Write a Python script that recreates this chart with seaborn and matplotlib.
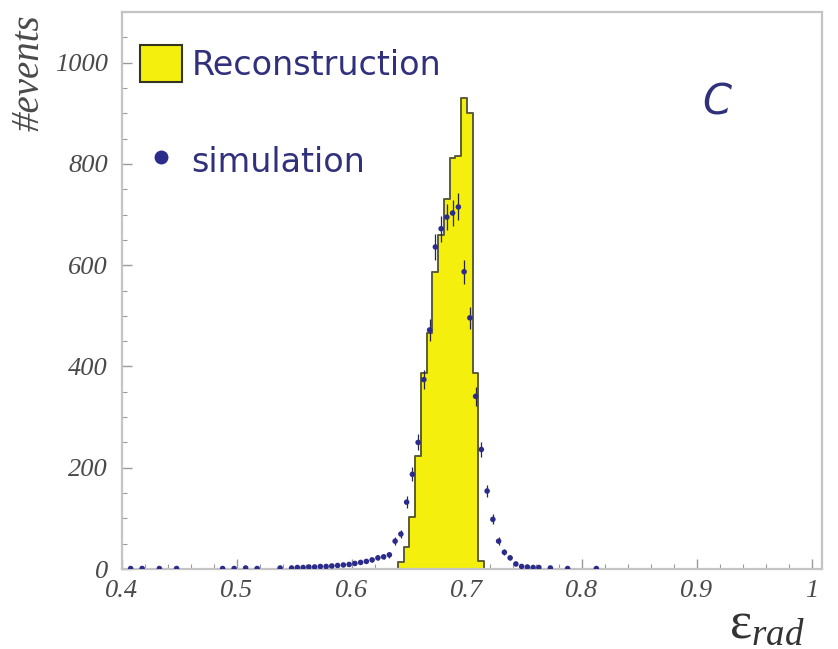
import numpy as np
import pandas as pd
import matplotlib
matplotlib.use("Agg")
import matplotlib.pyplot as plt
import seaborn as sns
from matplotlib.patches import Patch
from matplotlib.lines import Line2D
from matplotlib.ticker import MultipleLocator, FuncFormatter

# ---------------- data ----------------
reco_edges = [0.640, 0.645, 0.650, 0.655, 0.660, 0.665, 0.670, 0.675,
              0.680, 0.685, 0.690, 0.695, 0.700, 0.705, 0.710, 0.715]
reco_counts = [14, 43, 102, 223, 388, 467, 587, 660,
               730, 811, 815, 930, 900, 388, 16]

sim_x = [0.4075, 0.4175, 0.4325, 0.4475, 0.4875, 0.4975, 0.5075, 0.5175,
         0.5375, 0.5475, 0.5525, 0.5575, 0.5625, 0.5675, 0.5725, 0.5775,
         0.5825, 0.5875, 0.5925, 0.5975, 0.6025, 0.6075, 0.6125, 0.6175,
         0.6225, 0.6275, 0.6325, 0.6375, 0.6425, 0.6475, 0.6525, 0.6575,
         0.6625, 0.6675, 0.6725, 0.6775, 0.6825, 0.6875, 0.6925, 0.6975,
         0.7025, 0.7075, 0.7125, 0.7175, 0.7225, 0.7275, 0.7325, 0.7375,
         0.7425, 0.7475, 0.7525, 0.7575, 0.7625, 0.7725, 0.7875, 0.8125]
sim_y = [1, 1, 1, 1, 1, 1, 2, 1,
         2, 2, 3, 3, 4, 4, 5, 5,
         6, 7, 8, 9, 11, 13, 15, 18,
         22, 24, 28, 55, 69, 132, 187, 250,
         374, 472, 636, 672, 695, 703, 715, 587,
         496, 341, 236, 154, 98, 55, 33, 22,
         10, 5, 4, 3, 3, 2, 1, 1]
sim_err = [1.0, 1.0, 1.0, 1.0, 1.0, 1.0, 1.4, 1.0,
           1.4, 1.4, 1.7, 1.7, 2.0, 2.0, 2.2, 2.2,
           2.4, 2.6, 2.8, 3.0, 3.3, 3.6, 3.9, 4.2,
           4.7, 4.9, 5.3, 7.4, 8.3, 11.5, 13.7, 15.8,
           19.3, 21.7, 25.2, 25.9, 26.4, 26.5, 26.7, 24.2,
           22.3, 18.5, 15.4, 12.4, 9.9, 7.4, 5.7, 4.7,
           3.2, 2.2, 2.0, 1.7, 1.7, 1.4, 1.0, 1.0]

x_ticks = [0.4, 0.5, 0.6, 0.7, 0.8, 0.9, 1.0]
y_ticks = [0, 200, 400, 600, 800, 1000]

label_reco = "Reconstruction"
label_sim = "simulation"
panel_label = "C"

# ---------------- style ----------------
sns.set_style("white")
plt.rcParams["font.family"] = ["DejaVu Sans"]
plt.rcParams["mathtext.fontset"] = "custom"
plt.rcParams["mathtext.rm"] = "Liberation Serif"
plt.rcParams["mathtext.it"] = "Liberation Serif:italic"

yellow = "#f4ef0c"
hist_edge = "#5c5c38"
navy = "#2b2b8c"
text_navy = "#30307c"
frame_col = "#c4c4c4"
tick_col = "#9a9a9a"
label_col = "#4a4a4a"

fig = plt.figure(figsize=(8.38, 6.49), dpi=100)
ax = fig.add_axes([122 / 838, 1 - 569 / 649, 700 / 838, 557 / 649])

centers = [(a + b) / 2 for a, b in zip(reco_edges[:-1], reco_edges[1:])]
reco_df = pd.DataFrame({"x": centers, "w": reco_counts})
sns.histplot(data=reco_df, x="x", weights="w", bins=reco_edges,
             element="step", fill=True, color=yellow, alpha=1.0,
             edgecolor=hist_edge, linewidth=1.4, ax=ax, zorder=2)

ax.errorbar(sim_x, sim_y, yerr=sim_err, fmt="none", ecolor="#26264a",
            elinewidth=0.9, zorder=3)
sim_df = pd.DataFrame({"x": sim_x, "y": sim_y})
sns.scatterplot(data=sim_df, x="x", y="y", color=navy, s=16,
                edgecolor="none", ax=ax, zorder=4)

ax.set_xlim(0.4, 1.0087)
ax.set_ylim(0, 1100)

ax.xaxis.set_major_locator(MultipleLocator(0.1))
ax.xaxis.set_minor_locator(MultipleLocator(0.02))
ax.yaxis.set_major_locator(MultipleLocator(200))
ax.yaxis.set_minor_locator(MultipleLocator(50))
ax.set_xticks(x_ticks)
ax.set_yticks(y_ticks)
ax.xaxis.set_major_formatter(FuncFormatter(lambda v, p: "%g" % round(v, 3)))
ax.yaxis.set_major_formatter(FuncFormatter(lambda v, p: "%d" % v))

ax.tick_params(axis="both", which="both", direction="in", colors=tick_col,
               bottom=True, left=True, top=False, right=False)
ax.tick_params(axis="both", which="major", length=7, width=1.0)
ax.tick_params(axis="both", which="minor", length=3.5, width=0.8)
ax.tick_params(axis="y", which="major", pad=10)
ax.tick_params(axis="x", which="major", pad=8)
for lab in ax.get_xticklabels() + ax.get_yticklabels():
    lab.set_fontfamily("Liberation Serif")
    lab.set_fontstyle("italic")
    lab.set_fontsize(19)
    lab.set_color(label_col)

for sp in ax.spines.values():
    sp.set_color(frame_col)
    sp.set_linewidth(1.6)
    sp.set_visible(True)

ax.set_ylabel("#events", fontfamily="Liberation Serif", fontstyle="italic",
              fontsize=28, color=label_col, loc="top")
ax.yaxis.set_label_coords(-0.106, 0.995)
ax.set_xlabel(r"$\mathrm{ε}_{rad}$", fontsize=38, color="#333333", loc="right")
ax.xaxis.set_label_coords(0.976, -0.05)

ax.text(0.85, 0.838, panel_label, transform=ax.transAxes, fontsize=30,
        fontstyle="italic", color=text_navy, ha="center", va="center")

handles = [Patch(facecolor=yellow, edgecolor="#333322", linewidth=1.5),
           Line2D([], [], marker="o", linestyle="", color=navy, markersize=9)]
ax.legend(handles, [label_reco, label_sim], loc="upper left",
          bbox_to_anchor=(0.0257, 0.9407), frameon=False, borderpad=0,
          borderaxespad=0, fontsize=24, labelcolor=text_navy,
          handlelength=1.27, handleheight=1.33, handletextpad=0.27,
          labelspacing=1.8)

fig.savefig("out.png", dpi=100, facecolor="white")
